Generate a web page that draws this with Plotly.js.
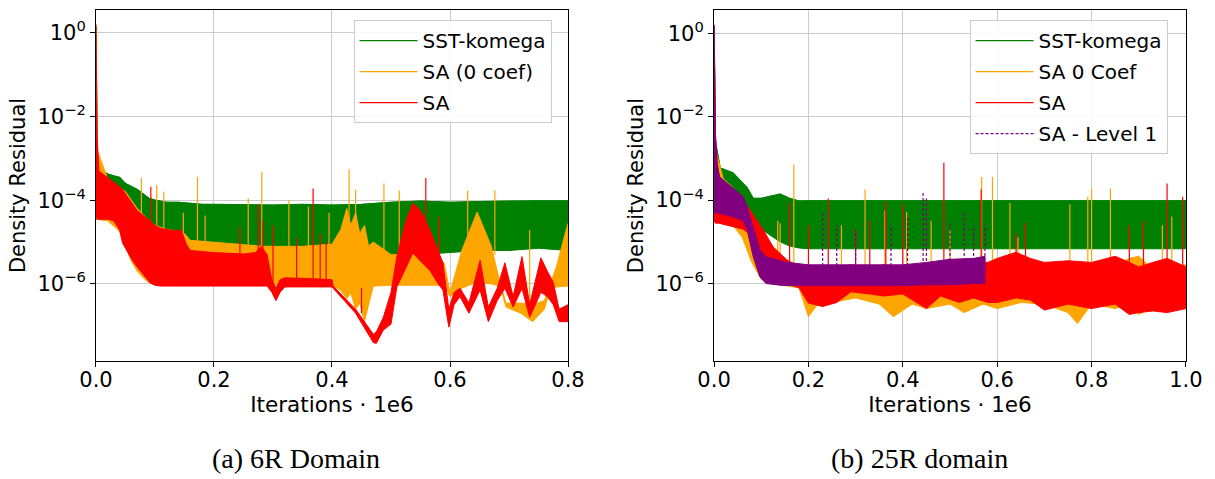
<!DOCTYPE html>
<html><head><meta charset="utf-8">
<script src="https://cdn.plot.ly/plotly-3.0.1.min.js"></script>
<style>html,body{margin:0;padding:0;background:#fff}#chart{width:1215px;height:479px}</style>
</head><body><div id="chart"></div>
<script>
// ---------- labels ----------
const names6 = ['SST-komega', 'SA (0 coef)', 'SA'];
const names25 = ['SST-komega', 'SA 0 Coef', 'SA', 'SA - Level 1'];
const captions = ['(a) 6R Domain', '(b) 25R domain'];
const xTitle = 'Iterations · 1e6';
const yTitle = 'Density Residual';
const yTickVals = [1e-6, 1e-4, 1e-2, 1];
const yTickText = ['10<sup>−6</sup>', '10<sup>−4</sup>', '10<sup>−2</sup>', '10<sup>0</sup>'];
const xTickVals6 = [0, 0.2, 0.4, 0.6, 0.8];
const xTickText6 = ['0.0', '0.2', '0.4', '0.6', '0.8'];
const xTickVals25 = [0, 0.2, 0.4, 0.6, 0.8, 1.0];
const xTickText25 = ['0.0', '0.2', '0.4', '0.6', '0.8', '1.0'];

// ---------- (a) 6R domain : envelopes of residual bands ----------
const sst6X  = [0, 0.002, 0.01, 0.02, 0.03, 0.04, 0.05, 0.06, 0.07, 0.08, 0.09, 0.1, 0.12, 0.14, 0.16, 0.18, 0.2, 0.25, 0.3, 0.35, 0.4, 0.45, 0.5, 0.55, 0.6, 0.65, 0.7, 0.75, 0.8];
const sst6Hi = [1.4, 1.0e-3, 5.0e-4, 4.2e-4, 3.8e-4, 3.5e-4, 2.5e-4, 2.1e-4, 1.8e-4, 1.4e-4, 1.1e-4, 1.0e-4, 8.9e-5, 8.9e-5, 8.3e-5, 7.9e-5, 7.9e-5, 7.6e-5, 7.6e-5, 7.9e-5, 7.6e-5, 7.9e-5, 8.9e-5, 9.5e-5, 8.9e-5, 9.3e-5, 9.6e-5, 9.6e-5, 9.6e-5];
const sst6Lo = [3.5e-5, 3.5e-5, 3.5e-5, 3.5e-5, 3.2e-5, 2.5e-5, 2.0e-5, 1.8e-5, 1.6e-5, 1.4e-5, 1.3e-5, 1.2e-5, 1.1e-5, 1.1e-5, 1.07e-5, 1.0e-5, 1.0e-5, 8.9e-6, 7.9e-6, 6.3e-6, 5.0e-6, 4.0e-6, 4.5e-6, 5.0e-6, 5.6e-6, 6.3e-6, 6.3e-6, 7.1e-6, 6.3e-6];

const sa0c6X  = [0, 0.002, 0.02, 0.04, 0.05, 0.06, 0.07, 0.08, 0.09, 0.1, 0.12, 0.14, 0.15, 0.16, 0.2, 0.24, 0.28, 0.3, 0.35, 0.4, 0.415, 0.425, 0.432, 0.44, 0.447, 0.455, 0.462, 0.47, 0.5, 0.55, 0.59, 0.6, 0.62, 0.646, 0.67, 0.685, 0.695, 0.72, 0.74, 0.76, 0.77, 0.78, 0.8];
const sa0c6Hi = [1.26, 1.6e-3, 3.2e-4, 2.0e-4, 1.6e-4, 1.0e-4, 6.3e-5, 4.5e-5, 3.2e-5, 2.5e-5, 2.0e-5, 1.8e-5, 1.6e-5, 1.1e-5, 1.0e-5, 8.9e-6, 7.9e-6, 7.9e-6, 7.9e-6, 8.9e-6, 2.0e-5, 6.3e-5, 2.5e-5, 5.0e-5, 1.6e-5, 2.5e-5, 8.0e-6, 1.0e-5, 5.0e-6, 5.0e-6, 3.2e-6, 6.3e-7, 6.3e-6, 5.2e-5, 7.9e-6, 1.05e-6, 3.5e-7, 3.5e-7, 3.2e-7, 4.0e-7, 1.0e-6, 2.5e-6, 2.8e-5];
const sa0c6Lo = [3.5e-5, 3.5e-5, 3.2e-5, 1.8e-5, 7.9e-6, 3.5e-6, 2.0e-6, 1.4e-6, 1.07e-6, 9.5e-7, 9.3e-7, 9.3e-7, 9.3e-7, 9.3e-7, 9.3e-7, 9.3e-7, 9.3e-7, 9.3e-7, 9.3e-7, 9.3e-7, 7.0e-7, 4.5e-7, 6.0e-7, 2.5e-7, 3.5e-7, 1.26e-7, 3.2e-7, 8.9e-7, 9.3e-7, 9.3e-7, 9.3e-7, 5.0e-7, 7.9e-7, 1.12e-6, 1.0e-6, 8.9e-7, 2.8e-7, 2.0e-7, 1.26e-7, 2.5e-7, 7.9e-7, 8.5e-7, 8.9e-7];

const sa6X  = [0, 0.002, 0.005, 0.02, 0.03, 0.04, 0.045, 0.06, 0.07, 0.083, 0.092, 0.1, 0.11, 0.13, 0.145, 0.153, 0.16, 0.2, 0.25, 0.27, 0.28, 0.29, 0.298, 0.305, 0.312, 0.32, 0.36, 0.4, 0.402, 0.44, 0.47, 0.475, 0.487, 0.5, 0.51, 0.525, 0.537, 0.55, 0.566, 0.58, 0.588, 0.598, 0.607, 0.617, 0.632, 0.651, 0.665, 0.68, 0.693, 0.707, 0.722, 0.735, 0.754, 0.765, 0.775, 0.785, 0.8];
const sa6Hi = [1.6, 3.2e-3, 5.0e-4, 3.5e-4, 2.8e-4, 2.1e-4, 1.8e-4, 8.9e-5, 5.6e-5, 4.0e-5, 3.2e-5, 2.5e-5, 2.1e-5, 1.9e-5, 1.9e-5, 8.9e-6, 6.3e-6, 5.6e-6, 5.2e-6, 5.6e-6, 7.9e-6, 5.0e-6, 1.26e-6, 7.9e-7, 1.26e-6, 1.4e-6, 1.35e-6, 1.26e-6, 8.9e-7, 2.5e-7, 6.3e-8, 7.1e-8, 1.6e-7, 6.3e-7, 4.5e-6, 3.2e-5, 8.5e-5, 5.6e-5, 1.95e-5, 6.3e-6, 3.2e-6, 2.5e-7, 6.3e-7, 7.9e-7, 3.5e-7, 3.7e-6, 2.8e-7, 7.9e-7, 3.2e-6, 5.0e-7, 4.5e-6, 3.2e-7, 4.2e-6, 2.0e-6, 1.1e-6, 2.5e-7, 3.2e-7];
const sa6Lo = [4.0e-5, 3.5e-5, 3.5e-5, 3.5e-5, 3.2e-5, 1.95e-5, 9.5e-6, 4.0e-6, 2.5e-6, 1.5e-6, 1.05e-6, 9.3e-7, 8.9e-7, 8.9e-7, 8.9e-7, 8.9e-7, 8.9e-7, 8.9e-7, 8.9e-7, 8.9e-7, 8.9e-7, 8.9e-7, 6.3e-7, 4.0e-7, 6.3e-7, 8.5e-7, 8.5e-7, 8.5e-7, 7.9e-7, 2.0e-7, 4.0e-8, 3.8e-8, 7.9e-8, 1.1e-7, 8.5e-7, 2.5e-6, 5.5e-6, 3.5e-6, 2.1e-6, 1.0e-6, 7.2e-7, 9.3e-8, 3.2e-7, 5.0e-7, 2.0e-7, 7.2e-7, 1.26e-7, 4.0e-7, 7.9e-7, 2.8e-7, 7.9e-7, 1.6e-7, 6.3e-7, 5.0e-7, 3.2e-7, 1.26e-7, 1.26e-7];

// isolated spikes (a)
const sa0c6SpikeX    = [0.077, 0.103, 0.115, 0.148, 0.172, 0.185, 0.258, 0.281, 0.327, 0.36, 0.395, 0.429, 0.44, 0.488, 0.514, 0.63, 0.676, 0.735];
const sa0c6SpikeTop  = [3.4e-4, 2.3e-4, 1.6e-4, 5.0e-5, 3.6e-4, 4.3e-5, 1.1e-4, 4.7e-4, 1.0e-4, 7.1e-5, 5.0e-5, 5.5e-4, 1.8e-4, 2.5e-4, 1.7e-4, 1.7e-4, 1.7e-4, 1.95e-5];
const sa0c6SpikeBase = [4.0e-5, 1.0e-5, 1.0e-5, 1.0e-5, 1.0e-5, 1.0e-5, 8.0e-6, 8.0e-6, 8.0e-6, 8.0e-6, 8.0e-6, 3.0e-5, 3.0e-5, 5.0e-6, 5.0e-6, 1.0e-5, 5.0e-6, 3.5e-7];
const sa6SpikeX    = [0.093, 0.244, 0.275, 0.283, 0.3, 0.34, 0.368, 0.38, 0.39, 0.45, 0.559, 0.581];
const sa6SpikeTop  = [2.1e-4, 2.3e-5, 7.9e-5, 3.2e-5, 2.5e-5, 1.26e-5, 1.9e-4, 1.6e-5, 1.0e-5, 8.0e-7, 3.4e-4, 4.0e-5];
const sa6SpikeBase = [3.0e-5, 5.0e-6, 5.0e-6, 5.0e-6, 1.0e-6, 1.0e-6, 1.0e-6, 1.0e-6, 1.0e-6, 2.0e-7, 3.0e-5, 5.0e-6];

// ---------- (b) 25R domain ----------
const sst25X  = [0, 0.003, 0.013, 0.04, 0.07, 0.083, 0.1, 0.12, 0.14, 0.16, 0.18, 0.2, 0.3, 0.4, 0.5, 0.6, 0.7, 0.8, 0.9, 1.0];
const sst25Hi = [1.5, 2.5e-3, 5.9e-4, 4.5e-4, 2.0e-4, 1.1e-4, 1.1e-4, 1.26e-4, 1.4e-4, 1.1e-4, 9.5e-5, 9.6e-5, 9.6e-5, 9.6e-5, 9.6e-5, 9.6e-5, 9.6e-5, 9.6e-5, 9.6e-5, 9.6e-5];
const sst25Lo = [5.0e-5, 5.0e-5, 4.5e-5, 4.0e-5, 3.2e-5, 2.8e-5, 2.0e-5, 1.4e-5, 1.0e-5, 7.9e-6, 7.1e-6, 6.8e-6, 6.8e-6, 6.8e-6, 6.8e-6, 6.8e-6, 6.8e-6, 6.8e-6, 6.8e-6, 6.8e-6];

const sa0c25X  = [0, 0.003, 0.02, 0.04, 0.06, 0.08, 0.1, 0.12, 0.15, 0.18, 0.2, 0.22, 0.25, 0.3, 0.35, 0.38, 0.42, 0.45, 0.5, 0.53, 0.57, 0.6, 0.65, 0.7, 0.75, 0.77, 0.8, 0.85, 0.88, 0.9, 0.93, 0.97, 1.0];
const sa0c25Hi = [1.4, 1.6e-3, 3.2e-4, 2.0e-4, 1.0e-4, 4.0e-5, 1.26e-5, 5.0e-6, 3.2e-6, 2.5e-6, 2.2e-6, 2.0e-6, 2.0e-6, 2.0e-6, 2.2e-6, 2.2e-6, 2.0e-6, 2.0e-6, 2.2e-6, 2.5e-6, 2.8e-6, 2.5e-6, 3.2e-6, 2.2e-6, 2.5e-6, 2.2e-6, 2.8e-6, 2.8e-6, 4.0e-6, 4.5e-6, 2.2e-6, 2.5e-6, 2.8e-6];
const sa0c25Lo = [4.0e-5, 3.5e-5, 3.2e-5, 2.5e-5, 1.26e-5, 3.2e-6, 1.26e-6, 1.0e-6, 8.9e-7, 7.9e-7, 1.6e-7, 3.2e-7, 3.5e-7, 4.5e-7, 3.2e-7, 1.6e-7, 3.2e-7, 2.5e-7, 3.2e-7, 2.0e-7, 3.2e-7, 2.5e-7, 3.5e-7, 3.2e-7, 2.0e-7, 1.1e-7, 3.2e-7, 2.5e-7, 3.2e-7, 1.8e-7, 2.8e-7, 2.5e-7, 3.2e-7];

const sa25X  = [0, 0.003, 0.01, 0.03, 0.05, 0.062, 0.076, 0.09, 0.104, 0.125, 0.154, 0.18, 0.2, 0.23, 0.26, 0.29, 0.33, 0.36, 0.4, 0.45, 0.48, 0.52, 0.55, 0.58, 0.6, 0.64, 0.67, 0.7, 0.75, 0.8, 0.85, 0.88, 0.9, 0.93, 0.96, 1.0];
const sa25Hi = [1.6, 3.2e-3, 3.2e-4, 2.0e-4, 1.26e-4, 1.0e-4, 5.9e-5, 3.5e-5, 1.95e-5, 7.6e-6, 3.7e-6, 2.5e-6, 2.2e-6, 2.0e-6, 2.5e-6, 2.8e-6, 2.5e-6, 2.8e-6, 2.5e-6, 2.8e-6, 2.8e-6, 3.2e-6, 3.5e-6, 3.2e-6, 4.0e-6, 5.6e-6, 4.0e-6, 3.2e-6, 3.5e-6, 3.2e-6, 4.5e-6, 3.2e-6, 2.5e-6, 3.2e-6, 4.0e-6, 2.5e-6];
const sa25Lo = [3.2e-5, 2.8e-5, 2.8e-5, 2.5e-5, 2.2e-5, 2.0e-5, 1.5e-5, 6.3e-6, 2.5e-6, 1.26e-6, 1.0e-6, 7.9e-7, 3.4e-7, 2.8e-7, 3.5e-7, 6.3e-7, 5.6e-7, 5.0e-7, 5.6e-7, 2.5e-7, 5.0e-7, 3.5e-7, 4.5e-7, 3.5e-7, 3.5e-7, 4.5e-7, 4.0e-7, 2.3e-7, 3.2e-7, 2.5e-7, 3.2e-7, 1.8e-7, 2.0e-7, 2.2e-7, 2.0e-7, 2.5e-7];

const saL1X  = [0, 0.003, 0.006, 0.012, 0.04, 0.062, 0.07, 0.083, 0.097, 0.11, 0.147, 0.2, 0.3, 0.4, 0.45, 0.5, 0.55, 0.575];
const saL1Hi = [1.6, 4.0e-3, 7.9e-4, 3.6e-4, 1.95e-4, 1.2e-4, 6.9e-5, 2.3e-5, 6.5e-6, 4.4e-6, 3.3e-6, 2.8e-6, 2.8e-6, 2.8e-6, 3.2e-6, 3.8e-6, 4.0e-6, 4.5e-6];
const saL1Lo = [5.0e-5, 5.0e-5, 5.0e-5, 4.8e-5, 4.0e-5, 3.2e-5, 1.95e-5, 4.4e-6, 1.45e-6, 1.0e-6, 8.9e-7, 8.9e-7, 8.9e-7, 8.9e-7, 9.3e-7, 9.3e-7, 1.0e-6, 1.0e-6];

// isolated spikes (b)
const sa0c25SpikeX    = [0.135, 0.14, 0.169, 0.27, 0.32, 0.362, 0.408, 0.46, 0.5, 0.567, 0.59, 0.627, 0.644, 0.754, 0.792, 0.8, 0.84, 0.95, 0.97];
const sa0c25SpikeTop  = [3.2e-5, 2.8e-5, 7.1e-4, 2.5e-5, 1.8e-4, 5.6e-5, 5.2e-5, 3.2e-5, 2.0e-5, 3.6e-4, 3.6e-4, 8.5e-5, 1.26e-5, 7.9e-5, 1.2e-4, 1.9e-4, 1.9e-4, 2.5e-5, 4.0e-5];
const sa0c25SpikeBase = [2e-6, 2e-6, 2e-6, 2e-6, 2e-6, 2e-6, 2e-6, 2e-6, 2e-6, 2e-6, 2e-6, 2e-6, 2e-6, 2e-6, 2e-6, 2e-6, 2e-6, 2e-6, 2e-6];
const sa25SpikeX    = [0.16, 0.2, 0.242, 0.3, 0.33, 0.364, 0.4, 0.487, 0.566, 0.64, 0.66, 0.88, 0.91, 0.96, 0.993];
const sa25SpikeTop  = [8.5e-5, 2.5e-5, 1.1e-4, 2.0e-5, 3.2e-5, 9.3e-5, 7.9e-5, 7.9e-4, 1.8e-4, 1.6e-5, 2.8e-5, 2.5e-5, 3.2e-5, 2.5e-4, 1.2e-4];
const sa25SpikeBase = [2e-6, 2e-6, 2e-6, 2e-6, 2e-6, 2e-6, 2e-6, 2e-6, 2e-6, 2e-6, 2e-6, 2e-6, 2e-6, 2e-6, 2e-6];
const saL1SpikeX    = [0.23, 0.26, 0.3, 0.375, 0.41, 0.443, 0.45, 0.5, 0.53, 0.55, 0.574];
const saL1SpikeTop  = [5.0e-5, 2.5e-5, 2.0e-5, 2.5e-5, 4.0e-5, 1.6e-4, 1.1e-4, 3.2e-5, 5.0e-5, 2.5e-5, 2.5e-5];
const saL1SpikeBase = [2e-6, 2e-6, 2e-6, 2e-6, 2e-6, 2e-6, 2e-6, 2e-6, 2e-6, 2e-6, 2e-6];

// ---------- styles ----------
const GREEN = '#008000', ORANGE = '#ffa500', RED = '#ff0000', PURPLE = '#800080';

function band(x, lo, hi, color, xa, ya) {
  return [
    {x: x, y: lo, type: 'scatter', mode: 'lines', line: {color: color, width: 1}, xaxis: xa, yaxis: ya, showlegend: false, hoverinfo: 'skip'},
    {x: x, y: hi, type: 'scatter', mode: 'lines', line: {color: color, width: 1}, fill: 'tonexty', fillcolor: color, xaxis: xa, yaxis: ya, showlegend: false, hoverinfo: 'skip'}
  ];
}
function spikes(xs, base, top, color, xa, ya, name, leg, dash) {
  const X = [], Y = [];
  xs.forEach((v, i) => { X.push(v, v, null); Y.push(base[i], top[i], null); });
  return {x: X, y: Y, type: 'scatter', mode: 'lines', line: {color: color, width: 1.2, dash: dash || 'solid'},
    xaxis: xa, yaxis: ya, name: name, legend: leg, legendgroup: leg + name, showlegend: true, hoverinfo: 'skip'};
}
function edge(x, y, color, xa, ya, name, leg) {
  return {x: x, y: y, type: 'scatter', mode: 'lines', line: {color: color, width: 1.2}, xaxis: xa, yaxis: ya,
    name: name, legend: leg, legendgroup: leg + name, showlegend: true, hoverinfo: 'skip'};
}

const traces = [
  ...band(sst6X, sst6Lo, sst6Hi, GREEN, 'x', 'y'),
  edge(sst6X, sst6Hi, GREEN, 'x', 'y', names6[0], 'legend'),
  ...band(sa0c6X, sa0c6Lo, sa0c6Hi, ORANGE, 'x', 'y'),
  spikes(sa0c6SpikeX, sa0c6SpikeBase, sa0c6SpikeTop, ORANGE, 'x', 'y', names6[1], 'legend'),
  ...band(sa6X, sa6Lo, sa6Hi, RED, 'x', 'y'),
  spikes(sa6SpikeX, sa6SpikeBase, sa6SpikeTop, RED, 'x', 'y', names6[2], 'legend'),

  ...band(sst25X, sst25Lo, sst25Hi, GREEN, 'x2', 'y2'),
  edge(sst25X, sst25Hi, GREEN, 'x2', 'y2', names25[0], 'legend2'),
  ...band(sa0c25X, sa0c25Lo, sa0c25Hi, ORANGE, 'x2', 'y2'),
  spikes(sa0c25SpikeX, sa0c25SpikeBase, sa0c25SpikeTop, ORANGE, 'x2', 'y2', names25[1], 'legend2'),
  ...band(sa25X, sa25Lo, sa25Hi, RED, 'x2', 'y2'),
  spikes(sa25SpikeX, sa25SpikeBase, sa25SpikeTop, RED, 'x2', 'y2', names25[2], 'legend2'),
  ...band(saL1X, saL1Lo, saL1Hi, PURPLE, 'x2', 'y2'),
  spikes(saL1SpikeX, saL1SpikeBase, saL1SpikeTop, PURPLE, 'x2', 'y2', names25[3], 'legend2', '3px,2px')
];

const FONT = 'DejaVu Sans, sans-serif';
function xax(domain, range, vals, text, anchor) {
  return {domain: domain, range: range, anchor: anchor, tickvals: vals, ticktext: text,
    showline: true, mirror: true, linecolor: '#000', linewidth: 1,
    ticks: 'outside', ticklen: 5, tickwidth: 1, tickcolor: '#000', ticklabelstandoff: -5,
    showgrid: true, gridcolor: '#cccccc', gridwidth: 1, zeroline: false,
    tickfont: {family: FONT, size: 21, color: '#000'},
    title: {text: xTitle, font: {family: FONT, size: 21.5, color: '#000'}, standoff: 0}};
}
function yax(range, anchor) {
  return {type: 'log', domain: [0.2463, 0.9791], range: range, anchor: anchor,
    tickvals: yTickVals, ticktext: yTickText,
    showline: true, mirror: true, linecolor: '#000', linewidth: 1,
    ticks: 'outside', ticklen: 5, tickwidth: 1, tickcolor: '#000',
    showgrid: true, gridcolor: '#cccccc', gridwidth: 1, zeroline: false,
    tickfont: {family: FONT, size: 21, color: '#000'},
    title: {text: yTitle, font: {family: FONT, size: 21, color: '#000'}, standoff: 6}};
}
const legendStyle = {
  bgcolor: 'rgba(255,255,255,0.85)', bordercolor: '#cccccc', borderwidth: 1,
  font: {family: FONT, size: 20, color: '#000'}, xanchor: 'left', yanchor: 'top',
  tracegroupgap: 2, traceorder: 'grouped', itemwidth: 58
};

const layout = {
  width: 1215, height: 479,
  margin: {l: 0, r: 0, t: 0, b: 0},
  paper_bgcolor: '#fff', plot_bgcolor: '#fff',
  font: {family: FONT, size: 20, color: '#000'},
  xaxis: xax([0.0790, 0.4675], [0, 0.8], xTickVals6, xTickText6, 'y'),
  yaxis: yax([-7.84, 0.54], 'x'),
  xaxis2: xax([0.5877, 0.9761], [0, 1.0], xTickVals25, xTickText25, 'y2'),
  yaxis2: yax([-7.86, 0.56], 'x2'),
  legend: Object.assign({x: 0.291, y: 0.958}, legendStyle),
  legend2: Object.assign({x: 0.798, y: 0.958}, legendStyle),
  annotations: [
    {text: captions[0], xref: 'paper', yref: 'paper', x: 0.2436, y: 0.042, xanchor: 'center', yanchor: 'middle', showarrow: false,
     font: {family: 'Liberation Serif, Times New Roman, serif', size: 28, color: '#000'}},
    {text: captions[1], xref: 'paper', yref: 'paper', x: 0.7572, y: 0.042, xanchor: 'center', yanchor: 'middle', showarrow: false,
     font: {family: 'Liberation Serif, Times New Roman, serif', size: 28, color: '#000'}}
  ],
  showlegend: true
};

Plotly.newPlot('chart', traces, layout, {staticPlot: true, displayModeBar: false});
</script>
</body></html>
